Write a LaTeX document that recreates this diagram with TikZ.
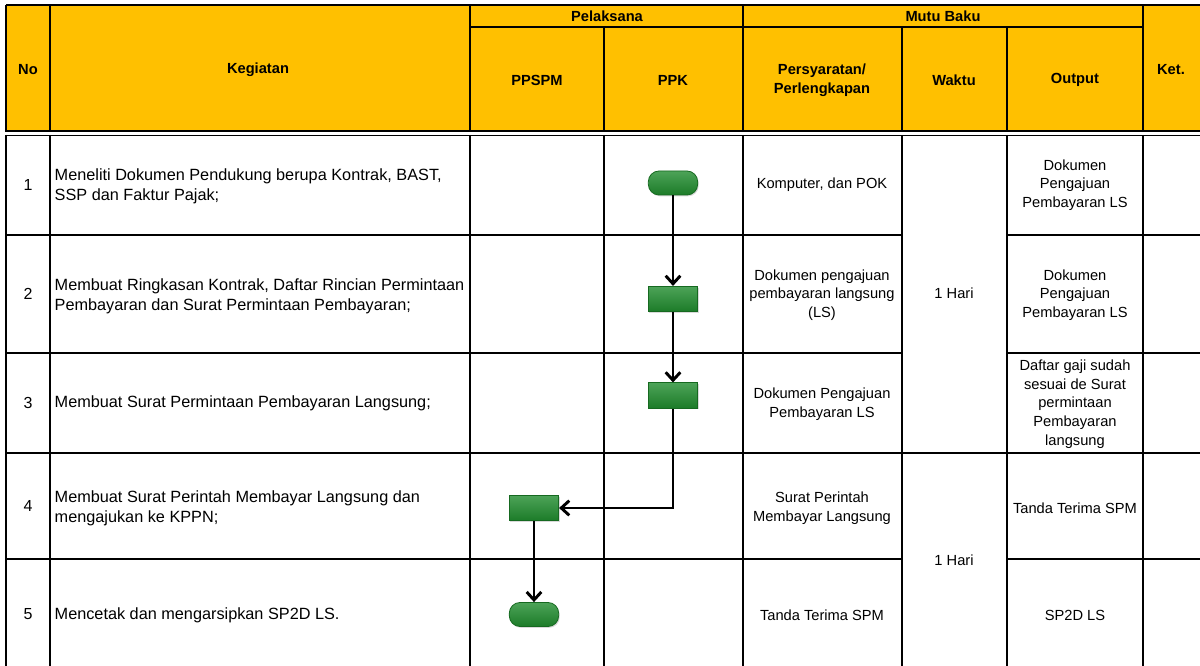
\documentclass[tikz,border=0pt]{standalone}
\usepackage{fontspec}
\setmainfont{Liberation Sans}
\usepackage{xcolor}
\usetikzlibrary{arrows.meta,positioning,shadows}

\definecolor{hdrfill}{RGB}{255,192,0}
\definecolor{stepgreen}{RGB}{32,140,46}
\definecolor{stepedge}{RGB}{22,105,32}

\begin{document}
\begin{tikzpicture}[x=0.75pt,y=-0.75pt,
    grid/.style={line width=1.4pt},
    head/.style={font=\bfseries\fontsize{11}{14.5}\selectfont, align=center},
    cell/.style={font=\fontsize{11}{14}\selectfont, align=center},
    act/.style={font=\fontsize{12.2}{15}\selectfont, align=left, anchor=west},
    num/.style={font=\fontsize{12}{15}\selectfont},
    proc/.style={draw=stepedge, line width=0.6pt, top color=stepgreen!80!white, middle color=stepgreen, bottom color=stepgreen!88!black,
        minimum width=37pt, minimum height=19pt, inner sep=0pt,
        drop shadow={shadow xshift=0.8pt, shadow yshift=-1pt, opacity=0.3}},
    term/.style={proc, rounded corners=8pt, minimum height=18pt},
    flow/.style={line width=2.2pt, -{Straight Barb[length=6pt,width=11pt]}}]
    \useasboundingbox (0,0) rectangle (1200,666);

    % Header
    \fill[hdrfill] (6,5) rectangle (1200,132);
    \draw[grid] (6,5) -- (1200,5);
    \draw[grid] (470,27) -- (1143,27);
    \draw[grid] (6,5) -- (6,132);
    \draw[grid] (50,5) -- (50,132);
    \draw[grid] (470,5) -- (470,132);
    \draw[grid] (604,27) -- (604,132);
    \draw[grid] (743,5) -- (743,132);
    \draw[grid] (902,27) -- (902,132);
    \draw[grid] (1007,27) -- (1007,132);
    \draw[grid] (1143,5) -- (1143,132);
    \draw[line width=1.8pt] (6,131) -- (1200,131); % double rule
    \draw[line width=1.1pt] (6,135.5) -- (1200,135.5);

    \node[head] (hno) at (28,70) {No};
    \node[head] (hkeg) at (258,70) {Kegiatan};
    \node[head] (hpel) at (607,16) {Pelaksana};
    \node[head] (hmutu) at (943,16) {Mutu Baku};
    \node[head] (hppspm) at (537,80) {PPSPM};
    \node[head] (hppk) at (673,80) {PPK};
    \node[head] (hsyarat) at (822,80) {Persyaratan/\\Perlengkapan};
    \node[head] (hwaktu) at (954,80) {Waktu};
    \node[head] (hout) at (1075,80) {Output};
    \node[head] (hket) at (1171,70) {Ket.};

    % Body grid
    \draw[grid] (6,135) -- (6,666);
    \draw[grid] (50,135) -- (50,666);
    \draw[grid] (470,135) -- (470,666);
    \draw[grid] (604,135) -- (604,666);
    \draw[grid] (743,135) -- (743,666);
    \draw[grid] (902,135) -- (902,666);
    \draw[grid] (1007,135) -- (1007,666);
    \draw[grid] (1143,135) -- (1143,666);
    \draw[grid] (6,235) -- (902,235) (1007,235) -- (1200,235);
    \draw[grid] (6,353) -- (902,353) (1007,353) -- (1200,353);
    \draw[grid] (6,453) -- (1200,453);
    \draw[grid] (6,559) -- (902,559) (1007,559) -- (1200,559);

    % No
    \node[num] (n1) at (28,185) {1};
    \node[num] (n2) at (28,294) {2};
    \node[num] (n3) at (28,403) {3};
    \node[num] (n4) at (28,506) {4};
    \node[num] (n5) at (28,614) {5};

    % Kegiatan
    \node[act] (k1) at (50,186) {Meneliti Dokumen Pendukung berupa Kontrak, BAST,\\SSP dan Faktur Pajak;};
    \node[act] (k2) at (50,296) {Membuat Ringkasan Kontrak, Daftar Rincian Permintaan\\Pembayaran dan Surat Permintaan Pembayaran;};
    \node[act] (k3) at (50,403) {Membuat Surat Permintaan Pembayaran Langsung;};
    \node[act] (k4) at (50,508) {Membuat Surat Perintah Membayar Langsung dan\\mengajukan ke KPPN;};
    \node[act] (k5) at (50,615) {Mencetak dan mengarsipkan SP2D LS.};

    % Persyaratan / Perlengkapan
    \node[cell] (s1) at (822,185) {Komputer, dan POK};
    \node[cell] (s2) at (822,295) {Dokumen pengajuan\\pembayaran langsung\\(LS)};
    \node[cell] (s3) at (822,404) {Dokumen Pengajuan\\Pembayaran LS};
    \node[cell] (s4) at (822,508) {Surat Perintah\\Membayar Langsung};
    \node[cell] (s5) at (822,615) {Tanda Terima SPM};

    % Waktu
    \node[cell] (w1) at (954,293) {1 Hari};
    \node[cell] (w2) at (954,560) {1 Hari};

    % Output
    \node[cell] (o1) at (1075,185) {Dokumen\\Pengajuan\\Pembayaran LS};
    \node[cell] (o2) at (1075,295) {Dokumen\\Pengajuan\\Pembayaran LS};
    \node[cell] (o3) at (1075,404) {Daftar gaji sudah\\sesuai de Surat\\permintaan\\Pembayaran\\langsung};
    \node[cell] (o4) at (1075,508) {Tanda Terima SPM};
    \node[cell] (o5) at (1075,615) {SP2D LS};

    % Flow
    \node[term] (t1) at (673,183) {};
    \node[proc] (p2) at (673,299) {};
    \node[proc] (p3) at (673,395.5) {};
    \node[proc] (p4) at (534,508) {};
    \node[term] (t5) at (534,614.5) {};

    \draw[flow] (t1) -- (p2);
    \draw[flow] (p2) -- (p3);
    \draw[flow] (p3.south) |- (p4.east);
    \draw[flow] (p4) -- (t5);
\end{tikzpicture}
\end{document}
